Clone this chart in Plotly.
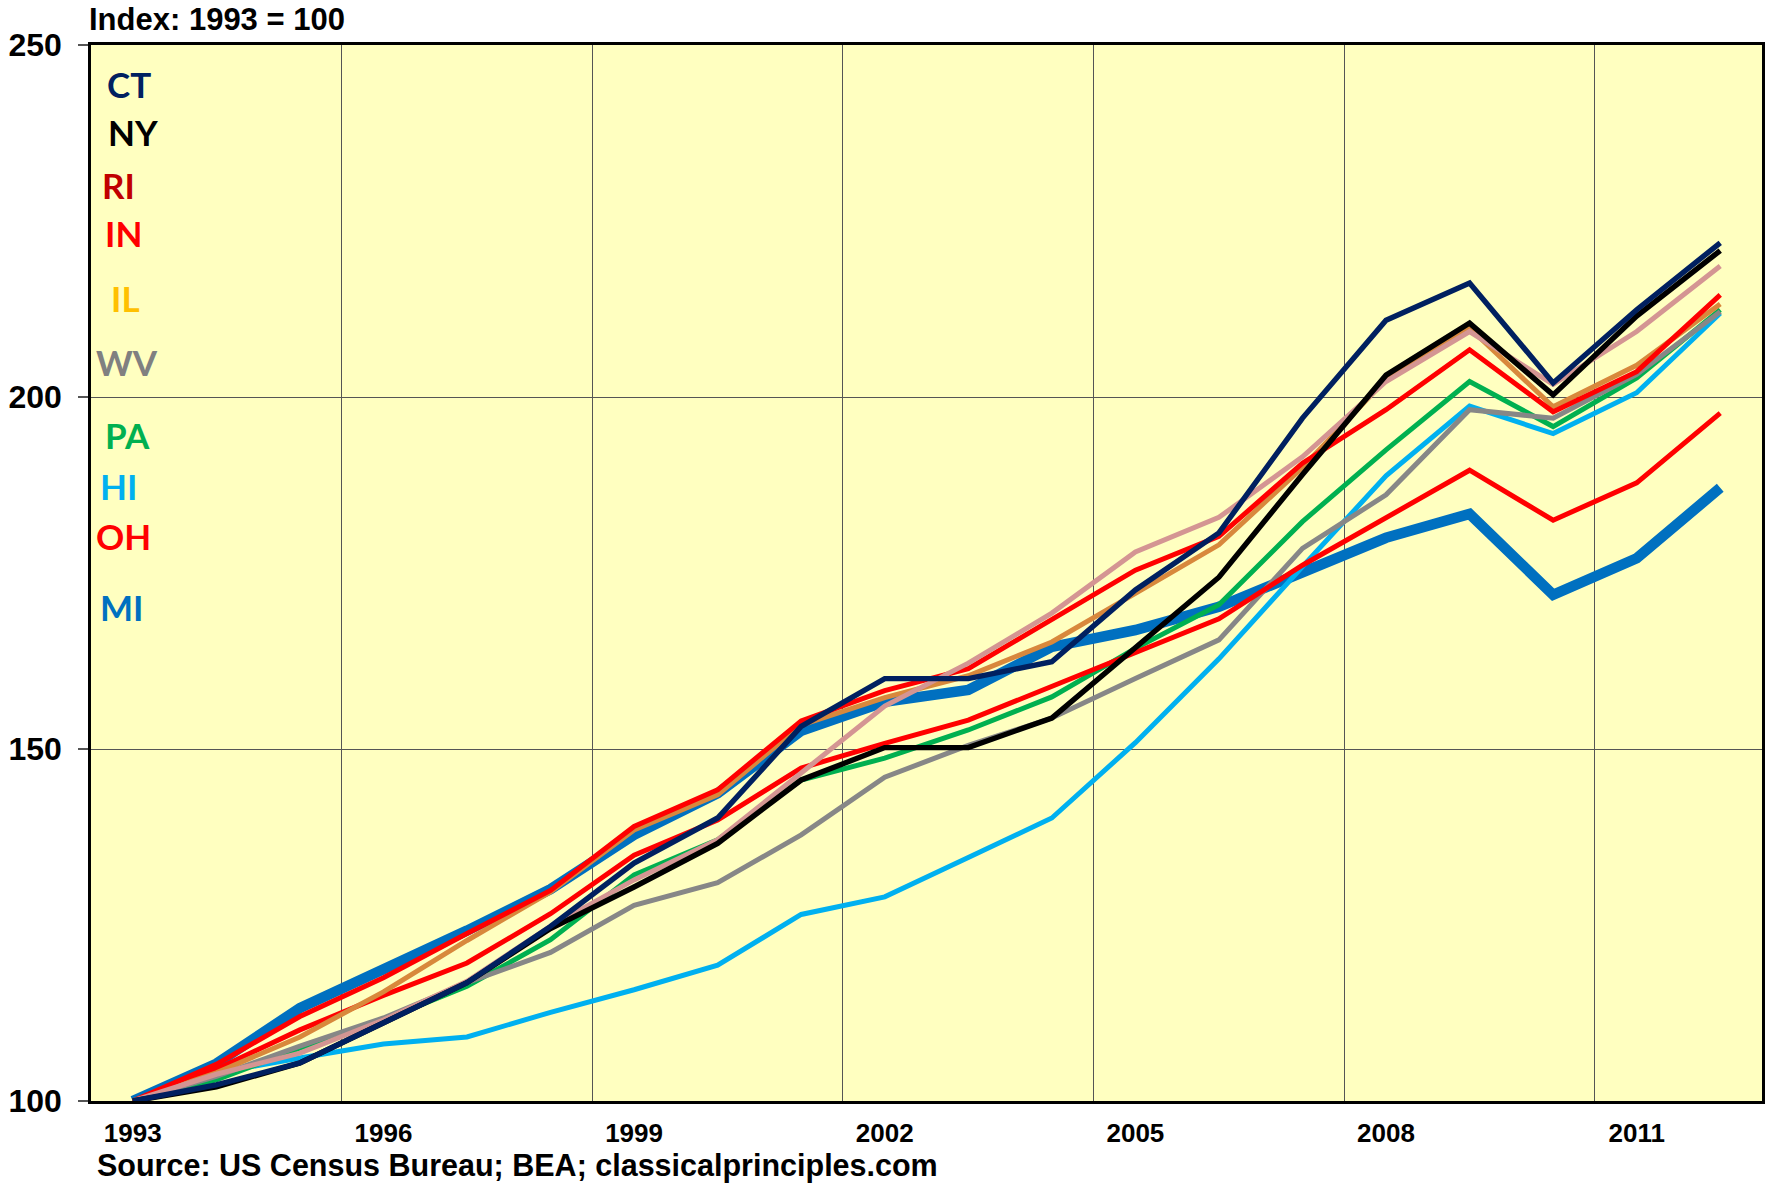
import plotly.graph_objects as go

years = [str(y) for y in range(1993, 2013)]

CT = [100, 102.3, 105.4, 111, 116.8, 124.8, 133.8, 140.2, 153.2, 160, 160, 162.4, 172.6, 180.7, 197, 210.9, 216.2, 202, 212.4, 221.9]
NY = [100, 102, 105.4, 111, 116.8, 124.5, 130.4, 136.6, 145.6, 150.2, 150.2, 154.4, 164.3, 174.4, 189, 203.1, 210.5, 200.3, 211.5, 220.8]
RI = [100, 103.8, 106.8, 111.5, 117, 124.8, 131.4, 137.1, 146.6, 156.1, 162.2, 169.3, 178, 182.9, 191.5, 202.2, 209.3, 201.8, 209.3, 218.6]
IN = [100, 105.2, 112, 117.5, 123.8, 129.9, 139, 144.2, 154, 158.3, 161.4, 168.3, 175.4, 180.2, 190.6, 198.2, 206.7, 197.9, 203.6, 214.5]
IL = [100, 104, 109.1, 115.5, 122.8, 129.7, 138.5, 143.5, 153.4, 157.3, 160.4, 165.2, 172.1, 179, 190, 202.5, 209.8, 198.6, 204.5, 213.2]
WV = [100, 103.5, 107.8, 111.8, 116.8, 121.1, 127.8, 131, 137.8, 146, 150.5, 154.4, 160, 165.5, 178.5, 186.1, 198.2, 197, 203.2, 212.1]
PA = [100, 103, 107.5, 111.5, 116.3, 122.9, 132.1, 137.1, 145.6, 148.7, 152.7, 157.4, 164.3, 170.5, 182.3, 192.5, 202.2, 195.8, 202.7, 212.4]
HI = [100, 104, 106.1, 108.1, 109.1, 112.6, 115.8, 119.3, 126.5, 129, 134.6, 140.2, 150.9, 162.8, 175.9, 188.8, 198.7, 194.8, 200.6, 211.9]
OH = [100, 104.5, 110.1, 115, 119.6, 126.6, 134.9, 139.9, 147.3, 150.8, 154.1, 158.9, 163.8, 168.5, 176.1, 182.8, 189.6, 182.5, 187.8, 197.7]
MI = [100, 105.3, 113.2, 118.6, 124.2, 130.1, 137.8, 143.7, 152.6, 156.7, 158.4, 164.5, 166.9, 170.2, 175, 180, 183.4, 171.9, 177.1, 187.1]

states = ["CT", "NY", "RI", "IN", "IL", "WV", "PA", "HI", "OH", "MI"]
series = {"CT": CT, "NY": NY, "RI": RI, "IN": IN, "IL": IL, "WV": WV,
          "PA": PA, "HI": HI, "OH": OH, "MI": MI}
line_colors = {"CT": "#002060", "NY": "#000000", "RI": "#D49593", "IN": "#FF0000",
               "IL": "#D8883C", "WV": "#878787", "PA": "#00B050", "HI": "#00B0F0",
               "OH": "#FF0000", "MI": "#0070C0"}
label_colors = {"CT": "#002060", "NY": "#000000", "RI": "#C00000", "IN": "#FF0000",
                "IL": "#FFC000", "WV": "#808080", "PA": "#00B050", "HI": "#00B0F0",
                "OH": "#FF0000", "MI": "#0070C0"}
line_widths = {"MI": 10.5, "CT": 5.4, "NY": 5.4}
draw_order = ["MI", "HI", "PA", "WV", "OH", "IL", "IN", "RI", "NY", "CT"]

# label placement (pixel left edge, pixel center y)
label_pos = {"CT": (106, 84), "NY": (107, 132), "RI": (101, 185), "IN": (104, 233),
             "IL": (110, 298), "WV": (95, 362), "PA": (104, 435), "HI": (99, 486),
             "OH": (95, 536), "MI": (99, 607)}

W, H = 1771, 1183
L, R, T, B = 91, 9, 45, 82
PW, PH = W - L - R, H - T - B

fig = go.Figure()
for s in draw_order:
    fig.add_trace(go.Scatter(x=years, y=series[s], mode="lines", name=s,
                             line=dict(color=line_colors[s], width=line_widths.get(s, 5)),
                             showlegend=False))

ann = []
for s in states:
    px, py = label_pos[s]
    ann.append(dict(x=(px - 1 - L) / PW, y=(H - B - py) / PH, xref="paper", yref="paper",
                    xanchor="left", yanchor="middle", showarrow=False, text=s,
                    font=dict(family="Lato", size=35, color=label_colors[s], weight="bold")))
ann.append(dict(x=(87 - L) / PW, y=1 + 25 / PH, xref="paper", yref="paper", xanchor="left",
                yanchor="middle", showarrow=False, text="Index: 1993 = 100",
                font=dict(family="Liberation Sans", size=31, color="black", weight="bold")))
ann.append(dict(x=(95 - L) / PW, y=-(1165 - (H - B)) / PH, xref="paper", yref="paper",
                xanchor="left", yanchor="middle", showarrow=False,
                text="Source: US Census Bureau; BEA; classicalprinciples.com",
                font=dict(family="Liberation Sans", size=30.5, color="black", weight="bold")))

fig.update_layout(
    width=W, height=H,
    margin=dict(l=L, r=R, t=T, b=B, pad=0),
    paper_bgcolor="white", plot_bgcolor="#FFFFC0",
    annotations=ann,
    xaxis=dict(type="category", range=[-0.5, 19.5], tickmode="linear", tick0=0, dtick=3,
               tickson="boundaries", ticks="", showgrid=True, gridcolor="#555555",
               gridwidth=1, showline=True, linecolor="black", linewidth=2.5, mirror=True,
               tickfont=dict(family="Liberation Sans", size=26, color="black", weight="bold"),
               ticklabelstandoff=7, zeroline=False, automargin=False),
    yaxis=dict(range=[100, 250], tickvals=[100, 150, 200, 250], showgrid=True,
               gridcolor="#555555", gridwidth=1, ticks="outside", ticklen=10,
               tickcolor="#555555", tickwidth=2, showline=True, linecolor="black",
               linewidth=2.5, mirror=True, zeroline=False, automargin=False,
               tickfont=dict(family="Liberation Sans", size=32, color="black", weight="bold"),
               ticklabelstandoff=10),
)

fig.write_html("out.html", config={"displayModeBar": False},
               post_script="document.body.style.margin='0';document.body.style.overflow='hidden';")
